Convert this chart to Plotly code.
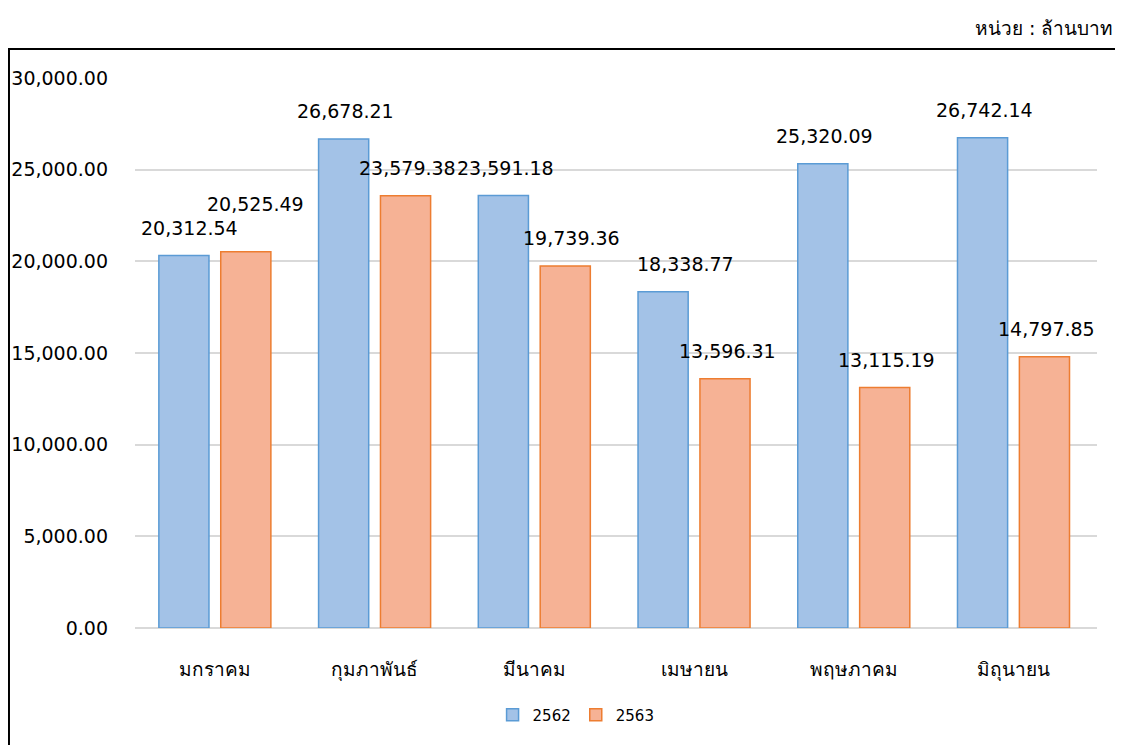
import plotly.graph_objects as go

months = ["มกราคม", "กุมภาพันธ์", "มีนาคม", "เมษายน", "พฤษภาคม", "มิถุนายน"]
series_names = ["2562", "2563"]
values_2562 = [20312.54, 26678.21, 23591.18, 18338.77, 25320.09, 26742.14]
values_2563 = [20525.49, 23579.38, 19739.36, 13596.31, 13115.19, 14797.85]
y_ticks = [0, 5000, 10000, 15000, 20000, 25000, 30000]
unit_text = "หน่วย : ล้านบาท"

FONT = "Tahoma, DejaVu Sans, sans-serif"
FILLS = ["#a3c2e7", "#f6b295"]
LINES = ["#5b9bd5", "#ed7d31"]
BAR_SHIFT = [-31, 31]        # px offset of each series' bar centre from category centre
LABEL_YSHIFT = 28            # px from bar top to label centre
EXTRA_YSHIFT = {(1, 0): 20}  # manually lifted label, as in the reference
EXTRA_XSHIFT = {(0, 3): 20, (1, 0): 8, (0, 0): 4, (1, 2): 4}

fig = go.Figure()
series_values = [values_2562, values_2563]
for i, (name, vals) in enumerate(zip(series_names, series_values)):
    fig.add_trace(go.Bar(
        x=months, y=vals, name=name,
        marker=dict(color=FILLS[i], line=dict(color=LINES[i], width=1.5)),
    ))

anns = []
for i, vals in enumerate(series_values):
    for j, (m, v) in enumerate(zip(months, vals)):
        anns.append(dict(
            x=m, y=v, xref="x", yref="y", text=f"{v:,.2f}", showarrow=False,
            xanchor="center", yanchor="middle",
            xshift=BAR_SHIFT[i] + 2 + EXTRA_XSHIFT.get((i, j), 0),
            yshift=LABEL_YSHIFT + EXTRA_YSHIFT.get((i, j), 0),
            font=dict(size=19, color="black", family=FONT),
        ))
anns.append(dict(text=unit_text, xref="paper", yref="paper", x=1.0187, y=1.0909,
                 xanchor="right", yanchor="middle", showarrow=False,
                 font=dict(size=19, color="black", family=FONT)))

fig.update_layout(
    width=1123, height=745,
    margin=dict(l=127, r=34, t=70, b=125, autoexpand=False),
    paper_bgcolor="white", plot_bgcolor="white",
    font=dict(family=FONT, color="black", size=19),
    barmode="group", bargap=0.225, bargroupgap=0.19,
    showlegend=True,
    legend=dict(orientation="h", x=0.4585, xanchor="center", y=-0.158, yanchor="middle",
                font=dict(size=15), traceorder="normal"),
    annotations=anns,
    shapes=[dict(type="rect", xref="paper", yref="paper", x0=-0.131, x1=1.06, y0=-0.3, y1=1.0527,
                 line=dict(color="black", width=2), layer="below")],
)
fig.update_yaxes(range=[0, 30000], tickvals=y_ticks, tickformat=",.2f", automargin=False,
                 showgrid=True, gridcolor="#d9d9d9", gridwidth=1.5,
                 zeroline=True, zerolinecolor="#d9d9d9", zerolinewidth=1.5,
                 showline=False, ticks="", ticklabelstandoff=26,
                 tickfont=dict(size=19, color="black"))
fig.update_xaxes(showline=False, ticks="", tickfont=dict(size=19, color="black"), automargin=False,
                 ticklabelstandoff=28)

fig.write_html("out.html")
